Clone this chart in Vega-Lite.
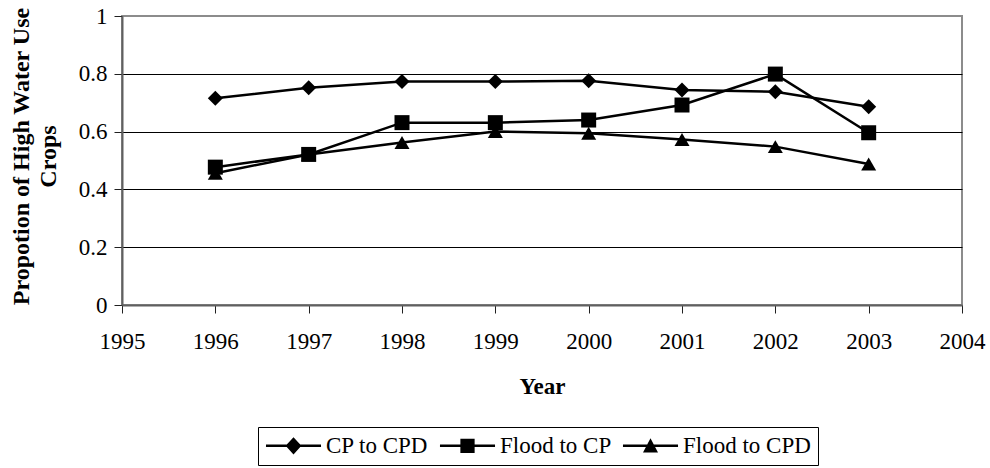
{
  "$schema": "https://vega.github.io/schema/vega-lite/v6.json",
  "width": 840,
  "height": 289,
  "autosize": {"type": "none"},
  "padding": {"left": 122, "top": 16, "right": 28, "bottom": 163},
  "background": "white",
  "config": {
    "view": {"stroke": "#8c8c8c", "strokeWidth": 2},
    "font": "Liberation Serif",
    "axis": {
      "labelFont": "Liberation Serif",
      "labelFontSize": 23,
      "labelColor": "black",
      "titleFont": "Liberation Serif",
      "titleFontSize": 23,
      "titleFontWeight": "bold",
      "titleColor": "black",
      "domainColor": "#606060",
      "domainWidth": 2,
      "tickColor": "#202020",
      "tickSize": 8,
      "tickWidth": 1
    }
  },
  "data": {
    "values": [
      {"year": 1996, "series": "CP to CPD", "value": 0.715},
      {"year": 1997, "series": "CP to CPD", "value": 0.752},
      {"year": 1998, "series": "CP to CPD", "value": 0.773},
      {"year": 1999, "series": "CP to CPD", "value": 0.773},
      {"year": 2000, "series": "CP to CPD", "value": 0.776},
      {"year": 2001, "series": "CP to CPD", "value": 0.744},
      {"year": 2002, "series": "CP to CPD", "value": 0.738},
      {"year": 2003, "series": "CP to CPD", "value": 0.686},
      {"year": 1996, "series": "Flood to CP", "value": 0.477},
      {"year": 1997, "series": "Flood to CP", "value": 0.521},
      {"year": 1998, "series": "Flood to CP", "value": 0.631},
      {"year": 1999, "series": "Flood to CP", "value": 0.631},
      {"year": 2000, "series": "Flood to CP", "value": 0.640},
      {"year": 2001, "series": "Flood to CP", "value": 0.692},
      {"year": 2002, "series": "Flood to CP", "value": 0.799},
      {"year": 2003, "series": "Flood to CP", "value": 0.596},
      {"year": 1996, "series": "Flood to CPD", "value": 0.456},
      {"year": 1997, "series": "Flood to CPD", "value": 0.521},
      {"year": 1998, "series": "Flood to CPD", "value": 0.562},
      {"year": 1999, "series": "Flood to CPD", "value": 0.600},
      {"year": 2000, "series": "Flood to CPD", "value": 0.594},
      {"year": 2001, "series": "Flood to CPD", "value": 0.573},
      {"year": 2002, "series": "Flood to CPD", "value": 0.548},
      {"year": 2003, "series": "Flood to CPD", "value": 0.488}
    ]
  },
  "encoding": {
    "x": {
      "field": "year",
      "type": "quantitative",
      "scale": {"domain": [1995, 2004], "nice": false, "zero": false},
      "axis": {
        "title": "Year",
        "values": [1995, 1996, 1997, 1998, 1999, 2000, 2001, 2002, 2003, 2004],
        "format": "d",
        "grid": false,
        "labelPadding": 17,
        "labelFlush": false,
        "labelOverlap": false,
        "titleBaseline": "alphabetic",
        "titleY": 88
      }
    },
    "y": {
      "field": "value",
      "type": "quantitative",
      "scale": {"domain": [0, 1], "nice": false},
      "axis": {
        "title": ["Propotion of High Water Use", "Crops"],
        "titleFontSize": 24,
        "titleLineHeight": 27,
        "titleBaseline": "alphabetic",
        "titleX": -94,
        "titleY": 140,
        "values": [0, 0.2, 0.4, 0.6, 0.8, 1],
        "format": "~g",
        "grid": true,
        "gridColor": "black",
        "gridWidth": 1,
        "gridOpacity": {"condition": {"test": "datum.value > 0.01 && datum.value < 0.99", "value": 1}, "value": 0},
        "labelPadding": 7,
        "labelFlush": false,
        "labelOverlap": false
      }
    }
  },
  "layer": [
    {
      "mark": {"type": "line", "color": "black", "strokeWidth": 2.5},
      "encoding": {"detail": {"field": "series", "type": "nominal"}}
    },
    {
      "mark": {"type": "point", "filled": true, "color": "black", "opacity": 1, "size": 225},
      "encoding": {
        "shape": {
          "field": "series",
          "type": "nominal",
          "scale": {
            "domain": ["CP to CPD", "Flood to CP", "Flood to CPD"],
            "range": ["diamond", "square", "triangle-up"]
          },
          "legend": null
        }
      }
    },
    {
      "transform": [{"filter": "datum.year < 0"}],
      "mark": {"type": "point", "filled": true, "color": "black", "opacity": 1},
      "encoding": {
        "shape": {
          "field": "series",
          "type": "nominal",
          "scale": {
            "domain": ["CP to CPD", "Flood to CP", "Flood to CPD"],
            "range": [
              "M-3.67,-0.17H3.67V0.17H-3.67ZM0,-1.15L1.05,0L0,1.15L-1.05,0Z",
              "M-3.67,-0.17H3.67V0.17H-3.67ZM-0.95,-0.95H0.95V0.95H-0.95Z",
              "M-3.67,-0.17H3.67V0.17H-3.67ZM0,-1L1,0.9H-1Z"
            ]
          },
          "legend": {
            "title": null,
            "orient": "none",
            "legendX": 136,
            "legendY": 411,
            "direction": "horizontal",
            "columns": 3,
            "symbolSize": 225,
            "symbolOffset": 17,
            "labelOffset": 21,
            "columnPadding": 10,
            "padding": 7,
            "strokeColor": "black",
            "labelFont": "Liberation Serif",
            "labelFontSize": 23,
            "labelColor": "black",
            "labelLimit": 400,
            "symbolFillColor": "black",
            "symbolStrokeColor": "black",
            "symbolStrokeWidth": 0,
            "symbolOpacity": 1
          }
        }
      }
    }
  ],
  "resolve": {"scale": {"shape": "independent"}}
}
